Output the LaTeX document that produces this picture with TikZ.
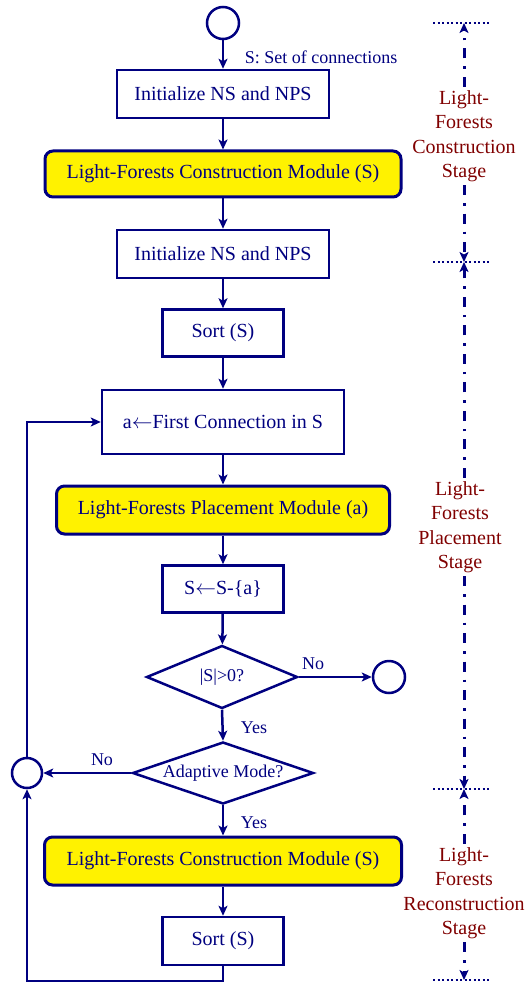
\documentclass[tikz,border=0pt]{standalone}
\usepackage{fontspec}
\setmainfont{Liberation Serif}
\usetikzlibrary{arrows.meta,shapes.geometric}
\definecolor{navy}{RGB}{0,0,128}
\definecolor{stagered}{RGB}{128,0,0}
\begin{document}
\begin{tikzpicture}[x=1pt,y=-1pt,
  box/.style={draw=navy, line width=2.5pt, fill=white, text=navy, font=\fontsize{20}{24}\selectfont, inner sep=0pt, minimum height=48pt},
  ybox/.style={box, fill=yellow, rounded corners=8pt, line width=3pt},
  term/.style={circle, draw=navy, line width=2.5pt, minimum size=32pt, inner sep=0pt},
  dec/.style={diamond, draw=navy, line width=2.5pt, text=navy, font=\fontsize{18}{22}\selectfont, inner sep=0pt, aspect=2.9},
  lbl/.style={text=navy, font=\fontsize{18}{22}\selectfont, inner sep=0pt},
  arr/.style={draw=navy, line width=2.5pt, -{Stealth[length=10pt,width=9pt,inset=2.5pt]}},
  stagelbl/.style={text=stagered, font=\fontsize{20}{24.5}\selectfont, align=center, inner sep=3pt},
  stageline/.style={draw=navy, line width=3pt, dash pattern=on 10pt off 8pt on 2.5pt off 8pt, -{Stealth[length=10pt,width=9pt,inset=2.5pt]}},
  sepline/.style={draw=navy, line width=2.2pt, dash pattern=on 2pt off 2.5pt}
]
\useasboundingbox (0,0) rectangle (525,984);

% flowchart nodes
\node[term] (start) at (223,23) {};
\node[box, minimum width=212pt] (init1) at (223,94) {Initialize NS and NPS};
\node[ybox, minimum width=356pt, minimum height=46pt] (lfc1) at (223,174) {Light-Forests Construction Module (S)};
\node[box, minimum width=212pt] (init2) at (223,254) {Initialize NS and NPS};
\node[box, minimum width=121pt, minimum height=47pt] (sort1) at (223,333) {Sort (S)};
\node[box, minimum width=242pt, minimum height=64pt] (first) at (223,422) {a$\leftarrow$First Connection in S};
\node[ybox, minimum width=333pt] (lfp) at (223,510) {Light-Forests Placement Module (a)};
\node[box, minimum width=121pt, minimum height=47pt] (rem) at (223,589) {S$\leftarrow$S-\{a\}};
\node[dec, minimum width=151pt, minimum height=63pt] (cnt) at (222,677) {|S|>0?};
\node[term] (endc) at (389,677) {};
\node[dec, minimum width=181pt, minimum height=62pt] (adapt) at (223,773) {Adaptive Mode?};
\node[term, minimum size=30pt] (join) at (27,773) {};
\node[ybox, minimum width=357pt] (lfc2) at (223,861) {Light-Forests Construction Module (S)};
\node[box, minimum width=121pt] (sort2) at (223,941) {Sort (S)};
\coordinate (back) at (223,981);

% labels
\node[lbl] (setlbl) at (321,57) {S: Set of connections};
\node[lbl] (no1) at (313,664) {No};
\node[lbl] (yes1) at (254,728) {Yes};
\node[lbl] (no2) at (102,760) {No};
\node[lbl] (yes2) at (254,823) {Yes};

% connectors
\draw[arr] (start) -- (init1);
\draw[arr] (init1) -- (lfc1);
\draw[arr] (lfc1) -- (init2);
\draw[arr] (init2) -- (sort1);
\draw[arr] (sort1) -- (first);
\draw[arr] (first) -- (lfp);
\draw[arr] (lfp) -- (rem);
\draw[arr] (rem) -- (cnt);
\draw[arr] (cnt.east) -- (endc.west);
\draw[arr] (cnt.south) -- (adapt.north);
\draw[arr] (adapt.west) -- (join.east);
\draw[arr] (adapt.south) -- (lfc2.north);
\draw[arr] (lfc2) -- (sort2);
\draw[arr] (join.north) |- (first.west);
\draw[arr] (sort2.south) -- (back) -| (join.south);

% stage markers
\coordinate (m0) at (464,23);
\coordinate (m1) at (464,262);
\coordinate (m2) at (464,789);
\coordinate (m3) at (464,980);
\coordinate (d0l) at (433,23);  \coordinate (d0r) at (490,23);
\coordinate (d1l) at (433,262); \coordinate (d1r) at (490,262);
\coordinate (d2l) at (433,789); \coordinate (d2r) at (490,789);
\coordinate (d3l) at (433,980); \coordinate (d3r) at (490,980);
\draw[sepline] (d0l) -- (d0r);
\draw[sepline] (d1l) -- (d1r);
\draw[sepline] (d2l) -- (d2r);
\draw[sepline] (d3l) -- (d3r);

\node[stagelbl] (st1) at (464,136) {Light-\\Forests\\Construction\\Stage};
\node[stagelbl] (st2) at (460,527) {Light-\\Forests\\Placement\\Stage};
\node[stagelbl] (st3) at (464,893) {Light-\\Forests\\Reconstruction\\Stage};

\draw[stageline] (st1.north -| m0) -- (m0);
\draw[stageline] (st1.south -| m1) -- (m1);
\draw[stageline] (st2.north -| m1) -- (m1);
\draw[stageline] (st2.south -| m2) -- (m2);
\draw[stageline] (st3.north -| m2) -- (m2);
\draw[stageline] (st3.south -| m3) -- (m3);
\end{tikzpicture}
\end{document}
